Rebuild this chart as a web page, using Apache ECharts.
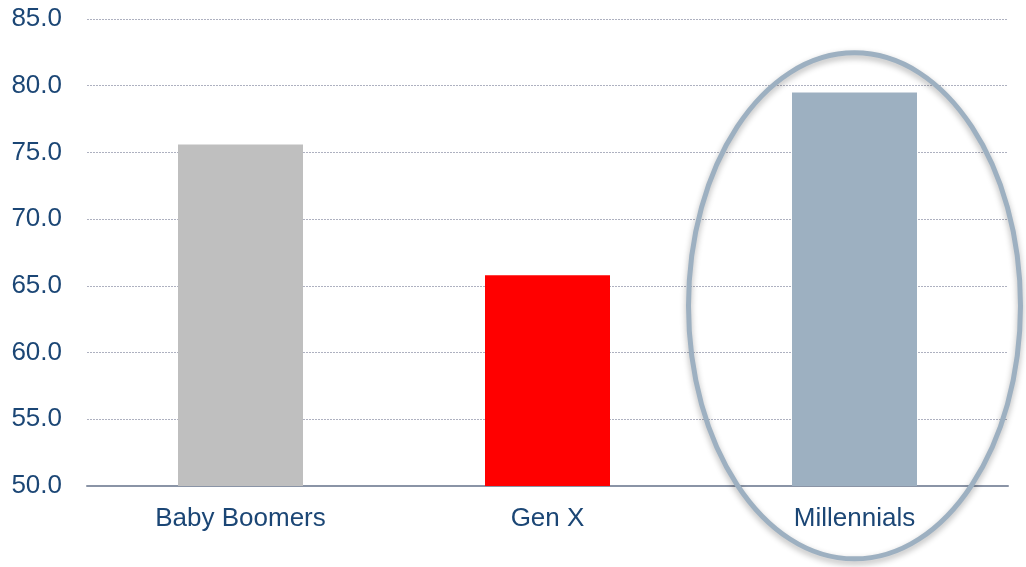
<!DOCTYPE html>
<html>
<head>
<meta charset="utf-8">
<script src="https://cdn.jsdelivr.net/npm/echarts@6/dist/echarts.min.js"></script>
<style>
  html, body { margin: 0; padding: 0; background: #fff; }
  #container { width: 1026px; height: 567px; }
</style>
</head>
<body>
<div id="container"></div>
<script>
var categories = ['Baby Boomers', 'Gen X', 'Millennials'];
var values = [75.6, 65.8, 79.5];
var barColors = ['#bfbfbf', '#ff0000', '#9db0c1'];
var yTicks = [50, 55, 60, 65, 70, 75, 80, 85];

var textColor = '#1b4675';
var dom = document.getElementById('container');
var myChart = echarts.init(dom);

var option = {
    animation: false,
    grid: {
        left: 87,
        right: 18,
        top: 19,
        bottom: 81
    },
    xAxis: {
        type: 'category',
        data: categories,
        axisTick: { show: false },
        axisLine: {
            lineStyle: { color: '#8a94a6', width: 2 }
        },
        axisLabel: {
            margin: 20,
            fontSize: 26,
            fontFamily: 'Liberation Sans',
            color: textColor
        }
    },
    yAxis: {
        type: 'value',
        min: yTicks[0],
        max: yTicks[yTicks.length - 1],
        interval: 5,
        axisLine: { show: false },
        axisTick: { show: false },
        axisLabel: {
            margin: 25,
            fontSize: 26,
            fontFamily: 'Liberation Sans',
            color: textColor,
            formatter: function (v) { return v.toFixed(1); }
        },
        splitLine: {
            lineStyle: { color: '#aeb1c0', width: 1, type: [2, 1] }
        }
    },
    series: [{
        type: 'bar',
        barWidth: 125,
        data: values.map(function (v, i) {
            return { value: v, itemStyle: { color: barColors[i] } };
        })
    }]
};
myChart.setOption(option);

// highlight ring around Millennials
var c = myChart.convertToPixel({ xAxisIndex: 0, yAxisIndex: 0 }, [categories[2], 63.5]);
myChart.setOption({
    graphic: [{
        type: 'ellipse',
        z: 100,
        shape: { cx: c[0], cy: c[1], rx: 166, ry: 253 },
        style: {
            fill: 'none',
            stroke: '#9db0c1',
            lineWidth: 5,
            shadowBlur: 6,
            shadowOffsetY: 3,
            shadowColor: 'rgba(0,0,0,0.3)'
        }
    }]
});
</script>
</body>
</html>
